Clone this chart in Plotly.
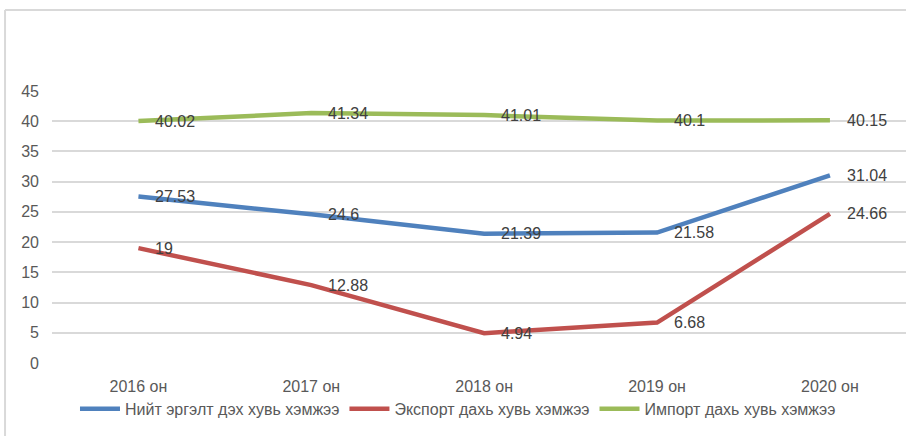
import plotly.graph_objects as go

# Хувь хэмжээ (%) по годам
years = ["2016 он", "2017 он", "2018 он", "2019 он", "2020 он"]
niit = [27.53, 24.6, 21.39, 21.58, 31.04]
eksport = [19, 12.88, 4.94, 6.68, 24.66]
import_ = [40.02, 41.34, 41.01, 40.1, 40.15]

SERIES = [
    ("Нийт эргэлт дэх хувь хэмжээ", niit, "#4F81BD"),
    ("Экспорт дахь хувь хэмжээ", eksport, "#C0504D"),
    ("Импорт дахь хувь хэмжээ", import_, "#9BBB59"),
]

FONT = "Liberation Sans, Arial, sans-serif"
GRID = "#D9D9D9"

fig = go.Figure()
for name, values, color in SERIES:
    fig.add_trace(go.Scatter(
        x=years, y=values, name=name, mode="lines",
        line=dict(color=color, width=4.5),
    ))
    for x, y in zip(years, values):
        fig.add_annotation(
            x=x, y=y, text=f"{y:g}", showarrow=False,
            xanchor="left", yanchor="middle", xshift=15,
            font=dict(family=FONT, size=16, color="#404040"),
        )

# рамка области диаграммы (видны только верх и левый край)
fig.add_shape(type="line", xref="paper", yref="paper",
              x0=-0.055, x1=1.1, y0=1.298, y1=1.298,
              line=dict(color=GRID, width=2))
fig.add_shape(type="line", xref="paper", yref="paper",
              x0=-0.055, x1=-0.055, y0=-0.4, y1=1.298,
              line=dict(color=GRID, width=2))

fig.update_layout(
    width=906, height=436,
    margin=dict(l=52, r=0, t=91, b=73),
    paper_bgcolor="white", plot_bgcolor="white",
    font=dict(family=FONT, size=16, color="#595959"),
    showlegend=True,
    legend=dict(orientation="h", x=0.4754, xanchor="center", y=-0.169, yanchor="middle",
                font=dict(size=16, color="#595959"), itemwidth=40, tracegroupgap=0),
    xaxis=dict(range=[-0.5, 4.44], showgrid=False, showline=False, zeroline=False,
               ticks="", ticklabelstandoff=12, tickfont=dict(size=16, color="#595959")),
    yaxis=dict(range=[0, 45], dtick=5, showgrid=True, gridcolor=GRID, gridwidth=1.5,
               zeroline=False, showline=False, ticks="", ticklabelstandoff=12,
               tickfont=dict(size=16, color="#595959")),
)

fig.write_html("out.html", config={"displayModeBar": False},
               post_script="document.body.style.margin='0';")
